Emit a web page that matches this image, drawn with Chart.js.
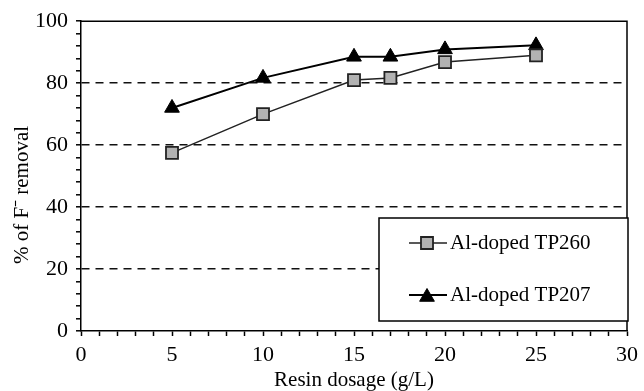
<!DOCTYPE html>
<html>
<head>
<meta charset="utf-8">
<script src="https://cdn.jsdelivr.net/npm/chart.js@4.4.0/dist/chart.umd.min.js"></script>
<style>
  html, body { margin: 0; padding: 0; background: #fff; }
  #wrap { width: 644px; height: 391px; }
</style>
</head>
<body>
<div id="wrap"><canvas id="chart" width="644" height="391"></canvas></div>
<script>
// Data
const dosage = [5, 10, 15, 17, 20, 25];
const tp260 = [57.5, 70, 81, 81.7, 86.8, 89];
const tp207 = [72, 81.7, 88.5, 88.5, 90.9, 92.2];
const seriesNames = ['Al-doped TP260', 'Al-doped TP207'];
const xMajor = [0, 5, 10, 15, 20, 25, 30];
const yMajor = [0, 20, 40, 60, 80, 100];
const yTitle = '% of F\u207B removal';

const serif = '"Liberation Serif", "Times New Roman", serif';
const fontSize = 21;
const tickFontSize = 22;

// Frame around plot area, y title and legend box inside the plot
const framePlugin = {
    id: 'frame',
    afterDraw(chart) {
        const ctx = chart.ctx;
        const a = chart.chartArea;
        ctx.save();
        ctx.strokeStyle = '#000';
        ctx.lineWidth = 1.5;
        ctx.beginPath();
        ctx.moveTo(a.left, a.top);
        ctx.lineTo(a.right, a.top);
        ctx.lineTo(a.right, a.bottom);
        ctx.stroke();

        // y axis title (sits a bit below the plot centre in the original)
        ctx.save();
        ctx.translate(22, 195);
        ctx.rotate(-Math.PI / 2);
        ctx.fillStyle = '#000';
        ctx.font = fontSize + 'px ' + serif;
        ctx.textAlign = 'center';
        ctx.textBaseline = 'middle';
        ctx.fillText(yTitle, 0, 0);
        ctx.restore();

        // legend
        const bx = 379, by = 218, bw = 249, bh = 103;
        ctx.fillStyle = '#fff';
        ctx.fillRect(bx, by, bw, bh);
        ctx.lineWidth = 1.5;
        ctx.strokeStyle = '#000';
        ctx.strokeRect(bx, by, bw, bh);
        const rows = [243, 295];
        chart.data.datasets.forEach((ds, i) => {
            const y = rows[i];
            ctx.strokeStyle = ds.borderColor;
            ctx.lineWidth = ds.borderWidth;
            ctx.beginPath();
            ctx.moveTo(409, y);
            ctx.lineTo(447, y);
            ctx.stroke();
            ctx.fillStyle = ds.pointBackgroundColor;
            ctx.strokeStyle = ds.pointBorderColor;
            ctx.lineWidth = ds.pointBorderWidth;
            Chart.helpers.drawPoint(ctx, {
                pointStyle: ds.pointStyle,
                radius: ds.pointRadius,
                borderWidth: ds.pointBorderWidth,
                rotation: 0
            }, 427, ds.pointStyle === 'triangle' ? y + 2 : y);
            ctx.fillStyle = '#000';
            ctx.font = fontSize + 'px ' + serif;
            ctx.textAlign = 'left';
            ctx.textBaseline = 'middle';
            ctx.fillText(ds.label, 450, y);
        });
        ctx.restore();
    }
};

new Chart(document.getElementById('chart'), {
    type: 'line',
    data: {
        datasets: [
            {
                label: seriesNames[0],
                data: dosage.map((x, i) => ({ x: x, y: tp260[i] })),
                borderColor: '#222',
                borderWidth: 1.5,
                pointStyle: 'rect',
                pointRadius: 8.5,
                pointBackgroundColor: '#b2b2b2',
                pointBorderColor: '#222',
                pointBorderWidth: 1.8,
                tension: 0
            },
            {
                label: seriesNames[1],
                data: dosage.map((x, i) => ({ x: x, y: tp207[i] })),
                borderColor: '#000',
                borderWidth: 2,
                pointStyle: 'triangle',
                pointRadius: 8.5,
                pointBackgroundColor: '#000',
                pointBorderColor: '#000',
                pointBorderWidth: 1,
                tension: 0
            }
        ]
    },
    options: {
        responsive: false,
        animation: false,
        layout: { padding: { top: 20, right: 12, left: 0, bottom: 0 } },
        plugins: {
            legend: { display: false },
            tooltip: { enabled: false }
        },
        scales: {
            x: {
                type: 'linear',
                min: 0,
                max: 30,
                afterFit: s => { s.height = 60; },
                ticks: {
                    stepSize: 1,
                    color: '#000',
                    padding: 6,
                    maxRotation: 0,
                    autoSkip: false,
                    font: { family: serif, size: tickFontSize },
                    callback: v => xMajor.includes(v) ? v : ''
                },
                grid: {
                    drawOnChartArea: false,
                    drawTicks: true,
                    tickLength: 5,
                    tickColor: '#000',
                    tickWidth: 1.5
                },
                border: { color: '#000', width: 1.5 },
                title: {
                    display: true,
                    text: 'Resin dosage (g/L)',
                    color: '#000',
                    font: { family: serif, size: fontSize, lineHeight: 1 },
                    padding: { top: 0, bottom: 0 }
                }
            },
            y: {
                min: 0,
                max: 100,
                afterFit: s => { s.width = 81; },
                ticks: {
                    stepSize: 4,
                    color: '#000',
                    padding: 8,
                    autoSkip: false,
                    font: { family: serif, size: tickFontSize },
                    callback: v => yMajor.includes(v) ? v : ''
                },
                grid: {
                    color: c => (c.tick && c.tick.value % 20 === 0 && c.tick.value > 0 && c.tick.value < 100) ? '#111' : 'rgba(0,0,0,0)',
                    lineWidth: 1.6,
                    drawTicks: true,
                    tickLength: 5,
                    tickColor: '#000',
                    tickWidth: 1.5
                },
                border: { color: '#000', width: 1.5, dash: [8, 6] },
                title: { display: false }
            }
        }
    },
    plugins: [framePlugin]
});
</script>
</body>
</html>
